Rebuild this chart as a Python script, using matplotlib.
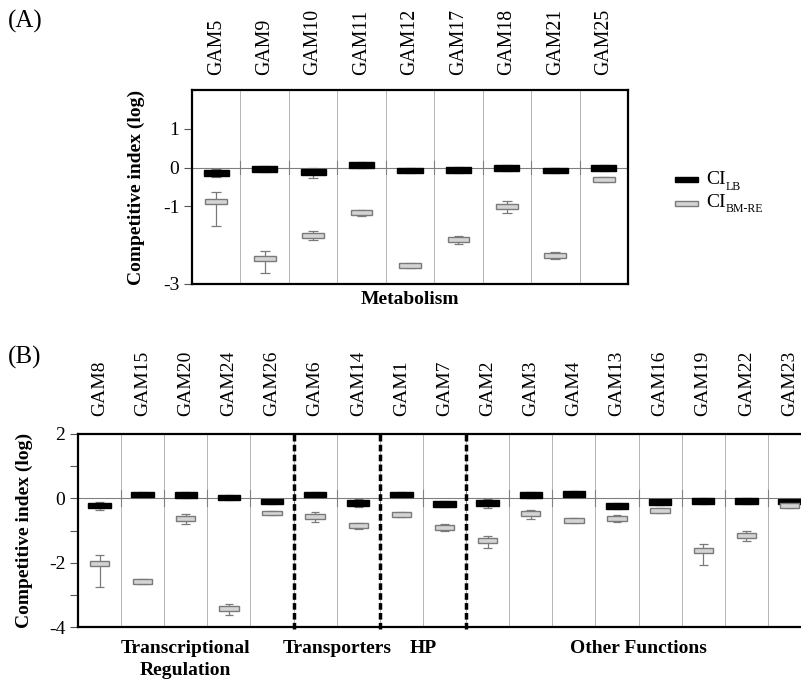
import matplotlib
matplotlib.use("Agg")
import matplotlib.pyplot as plt
from matplotlib.patches import Rectangle
from matplotlib.transforms import blended_transform_factory
import numpy as np

plt.rcParams['font.family'] = ['Liberation Serif', 'DejaVu Serif']
plt.rcParams['mathtext.fontset'] = 'stix'

# ---------------- Panel A data (Metabolism) ----------------
genes_a = ["GAM5", "GAM9", "GAM10", "GAM11", "GAM12", "GAM17", "GAM18", "GAM21", "GAM25"]
lb_lo_a = [-0.21, -0.11, -0.20, 0.00, -0.15, -0.13, -0.08, -0.15, -0.08]
lb_hi_a = [-0.06, 0.03, -0.04, 0.14, 0.00, 0.02, 0.07, 0.00, 0.07]
lb_wlo_a = [-0.24, -0.11, -0.26, 0.00, -0.15, -0.13, -0.08, -0.15, -0.08]
lb_whi_a = [-0.04, 0.03, -0.02, 0.14, 0.00, 0.02, 0.07, 0.00, 0.07]
bm_lo_a = [-0.94, -2.42, -1.81, -1.23, -2.58, -1.93, -1.07, -2.32, -0.36]
bm_hi_a = [-0.81, -2.29, -1.68, -1.10, -2.46, -1.80, -0.94, -2.20, -0.23]
bm_wlo_a = [-1.51, -2.72, -1.87, -1.25, -2.60, -1.97, -1.18, -2.36, -0.36]
bm_whi_a = [-0.62, -2.15, -1.63, -1.10, -2.46, -1.77, -0.87, -2.17, -0.23]

# ---------------- Panel B data ----------------
genes_b = ["GAM8", "GAM15", "GAM20", "GAM24", "GAM26", "GAM6", "GAM14", "GAM1", "GAM7",
           "GAM2", "GAM3", "GAM4", "GAM13", "GAM16", "GAM19", "GAM22", "GAM23"]
lb_lo_b = [-0.31, 0.03, 0.00, -0.06, -0.18, 0.03, -0.24, 0.03, -0.26,
           -0.24, 0.02, 0.03, -0.33, -0.20, -0.17, -0.17, -0.17]
lb_hi_b = [-0.16, 0.21, 0.19, 0.11, -0.02, 0.21, -0.05, 0.21, -0.08,
           -0.05, 0.21, 0.22, -0.14, -0.02, 0.01, 0.00, -0.03]
lb_wlo_b = [-0.37, 0.03, 0.00, -0.06, -0.18, 0.03, -0.28, 0.03, -0.26,
            -0.29, 0.02, 0.03, -0.33, -0.20, -0.17, -0.17, -0.17]
lb_whi_b = [-0.12, 0.21, 0.19, 0.11, -0.02, 0.21, -0.01, 0.21, -0.08,
            -0.01, 0.21, 0.22, -0.14, -0.02, 0.01, 0.00, -0.03]
bm_lo_b = [-2.10, -2.65, -0.70, -3.50, -0.53, -0.65, -0.93, -0.57, -0.98,
           -1.39, -0.56, -0.77, -0.70, -0.46, -1.70, -1.24, -0.30]
bm_hi_b = [-1.94, -2.50, -0.55, -3.34, -0.38, -0.49, -0.77, -0.42, -0.82,
           -1.23, -0.40, -0.62, -0.55, -0.30, -1.54, -1.09, -0.16]
bm_wlo_b = [-2.76, -2.65, -0.81, -3.64, -0.53, -0.75, -0.96, -0.57, -1.03,
            -1.54, -0.63, -0.77, -0.75, -0.46, -2.06, -1.33, -0.30]
bm_whi_b = [-1.75, -2.50, -0.50, -3.28, -0.38, -0.44, -0.77, -0.42, -0.79,
            -1.16, -0.35, -0.62, -0.52, -0.30, -1.41, -1.03, -0.16]

group_names = ["Transcriptional\nRegulation", "Transporters", "HP", "Other Functions"]
group_start = [0, 5, 7, 9]
group_end = [4, 6, 8, 16]

GRAY_FILL = "#d4d4d4"
GRAY_EDGE = "#7a7a7a"
SEP = "#b5b5b5"


def draw_panel(ax, genes, lb, bm, tick_half, label_size, label_pad):
    n = len(genes)
    x = np.arange(n)
    ax.set_xlim(-0.5, n - 0.5)
    for b in np.arange(n - 1) + 0.5:
        ax.axvline(b, color=SEP, lw=0.7, zorder=0)
        ax.plot([b, b], [-tick_half, tick_half], color="#808080", lw=0.8, zorder=1)
    ax.axhline(0, color="#808080", lw=0.8, zorder=1)
    for (lo, hi, wlo, whi, fc, ec, w) in [lb + ("black", "black", 0.52), bm + (GRAY_FILL, GRAY_EDGE, 0.45)]:
        lo = np.array(lo); hi = np.array(hi)
        ax.vlines(x, wlo, whi, color=GRAY_EDGE, lw=0.9, zorder=2)
        ax.hlines(wlo, x - 0.1, x + 0.1, color=GRAY_EDGE, lw=0.9, zorder=2)
        ax.hlines(whi, x - 0.1, x + 0.1, color=GRAY_EDGE, lw=0.9, zorder=2)
        ax.bar(x, hi - lo, bottom=lo, width=w, color=fc, edgecolor=ec, lw=1.0, zorder=3)
    ax.xaxis.tick_top()
    ax.set_xticks(x)
    ax.set_xticklabels(genes, rotation=90, fontsize=label_size)
    ax.tick_params(axis='x', length=0, pad=label_pad)
    ax.tick_params(axis='y', which='both', length=6, width=0.8, color="#555555", labelsize=14, pad=3)
    for s in ax.spines.values():
        s.set_linewidth(1.6)


fig = plt.figure(figsize=(8.01, 6.83), dpi=100)

# Panel A
axA = fig.add_axes([192 / 801, 1 - 284 / 683, 436 / 801, 194 / 683])
draw_panel(axA, genes_a, (lb_lo_a, lb_hi_a, lb_wlo_a, lb_whi_a),
           (bm_lo_a, bm_hi_a, bm_wlo_a, bm_whi_a), 0.17, 14.3, 10.5)
axA.set_ylim(-3, 2)
axA.set_yticks([1, 0, -1, -3])
axA.set_yticklabels(["1", "0", "-1", "-3"])
axA.set_ylabel("Competitive index (log)", fontsize=14, fontweight="bold")
axA.yaxis.set_label_coords(-0.108, 0.5)
axA.set_xlabel("Metabolism", fontsize=14, fontweight="bold", labelpad=5)

# Legend for panel A (manual)
fig.patches.append(Rectangle((675 / 801, 1 - 182 / 683), 23 / 801, 5 / 683,
                             transform=fig.transFigure, facecolor="black", edgecolor="black", lw=1))
fig.patches.append(Rectangle((675 / 801, 1 - 206 / 683), 23 / 801, 5 / 683,
                             transform=fig.transFigure, facecolor=GRAY_FILL, edgecolor=GRAY_EDGE, lw=1))
fig.text(706 / 801, 1 - 180 / 683, "CI", fontsize=14, va="center", ha="left")
fig.text(726 / 801, 1 - 187 / 683, "LB", fontsize=8.5, va="center", ha="left")
fig.text(706 / 801, 1 - 202 / 683, "CI", fontsize=14, va="center", ha="left")
fig.text(726 / 801, 1 - 209 / 683, "BM-RE", fontsize=8.5, va="center", ha="left")

# Panel B
axB = fig.add_axes([78 / 801, 1 - 627 / 683, 733 / 801, 193 / 683])
draw_panel(axB, genes_b, (lb_lo_b, lb_hi_b, lb_wlo_b, lb_whi_b),
           (bm_lo_b, bm_hi_b, bm_wlo_b, bm_whi_b), 0.25, 14, 13)
axB.set_ylim(-4, 2)
axB.set_yticks([2, 0, -2, -4])
axB.set_yticklabels(["2", "0", "-2", "-4"])
axB.set_yticks([1, -1, -3], minor=True)
axB.set_ylabel("Competitive index (log)", fontsize=14, fontweight="bold")
axB.yaxis.set_label_coords(-0.0614, 0.5)
axB.spines['right'].set_visible(False)
for b in [g - 0.5 for g in group_start[1:]]:
    axB.plot([b, b], [-4.05, 2.05], color="black", lw=2.5, ls=(0, (1.9, 0.95)), zorder=5, clip_on=False)
trans = blended_transform_factory(axB.transData, axB.transAxes)
for name, s, e in zip(group_names, group_start, group_end):
    axB.text((s + e) / 2, -0.065, name, transform=trans, ha="center", va="top",
             fontsize=14, fontweight="bold", linespacing=1.45)

fig.text(8 / 801, 1 - 21 / 683, "(A)", fontsize=18, va="center", ha="left")
fig.text(8 / 801, 1 - 357 / 683, "(B)", fontsize=18, va="center", ha="left")

fig.savefig("out.png", dpi=100)
